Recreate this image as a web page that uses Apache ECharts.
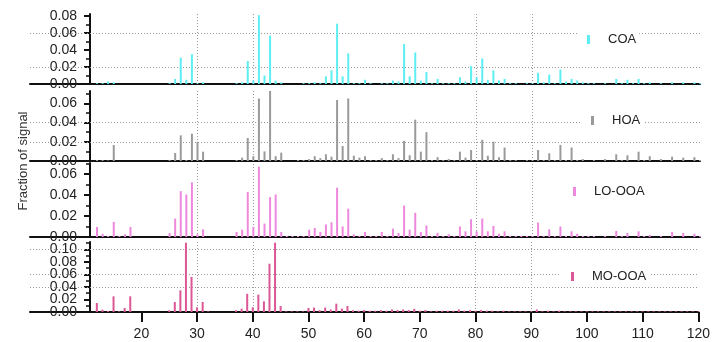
<!DOCTYPE html>
<html><head><meta charset="utf-8">
<script src="https://cdn.jsdelivr.net/npm/echarts@6/dist/echarts.min.js"></script>
<style>html,body{margin:0;padding:0;background:#fff}#c{width:713px;height:342px}</style>
</head><body><div id="c"></div>
<script>
// m/z 12..120
const mz = [];
for (let m = 12; m <= 120; m++) mz.push(m);

const names = ['COA', 'HOA', 'LO-OOA', 'MO-OOA'];
const colors = ['#5CEEF2', '#9A9A9A', '#EE88DE', '#DB5796'];

const coa = [
0.001,0.001,0.003,0.002,0,0,0,0,0,0,0,0,0,0.001,0.006,0.031,0.005,0.035,0.001,0.002,
0,0,0,0,0,0.001,0.002,0.027,0.004,0.081,0.010,0.057,0.004,0.002,0,0,0,0.001,0.001,0.002,
0.001,0.009,0.016,0.071,0.009,0.036,0.001,0.001,0.005,0.001,0,0.001,0.001,0.004,0.003,0.047,0.009,0.037,0.004,0.014,
0.001,0.006,0.001,0.001,0.001,0.008,0.003,0.021,0.008,0.030,0.005,0.016,0.004,0.006,0.001,0.001,0,0.001,0.001,0.013,
0.002,0.011,0.001,0.017,0.003,0.006,0.004,0.002,0.001,0.001,0,0.001,0,0.006,0.001,0.005,0.001,0.006,0.001,0.002,
0,0.001,0,0.002,0,0.002,0,0.002,0.001];

const hoa = [
0.001,0.001,0.0005,0.0166,0,0,0,0,0,0,0,0,0,0.001,0.0083,0.0267,0.001,0.0284,0.020,0.0097,
0,0,0,0,0,0.001,0.0035,0.024,0.005,0.065,0.010,0.073,0.005,0.0087,0,0,0.001,0.001,0.002,0.005,
0.003,0.007,0.0045,0.0635,0.0156,0.065,0.0055,0.0035,0.005,0.001,0.001,0.003,0.001,0.007,0.003,0.021,0.006,0.043,0.0097,0.030,
0.001,0.004,0.001,0.002,0.001,0.0097,0.0035,0.0114,0.001,0.022,0.0055,0.020,0.004,0.014,0.001,0.001,0,0.001,0.001,0.0114,
0.001,0.008,0.001,0.0167,0.001,0.014,0.001,0.002,0,0.001,0,0.002,0,0.007,0.001,0.006,0,0.0097,0.001,0.005,
0,0.002,0,0.0045,0,0.0035,0,0.004,0.001];

const looa = [
0.0096,0.003,0.001,0.0144,0.001,0.0026,0.0096,0,0,0,0,0,0,0.0038,0.0176,0.0437,0.0405,0.052,0.0026,0.0073,
0,0,0,0,0,0.0048,0.007,0.043,0.0096,0.067,0.0128,0.038,0.0405,0.0048,0.001,0.001,0.001,0.001,0.007,0.0086,
0.0048,0.012,0.014,0.047,0.010,0.027,0.0026,0.001,0.0048,0.001,0.001,0.0048,0.001,0.008,0.0038,0.030,0.007,0.023,0.0048,0.011,
0.001,0.004,0.001,0.0026,0.001,0.010,0.0054,0.017,0.0054,0.0176,0.0054,0.0105,0.003,0.0054,0.001,0.001,0.001,0.001,0.001,0.0137,
0.001,0.0073,0.001,0.010,0.001,0.0054,0.003,0.001,0.001,0.001,0,0.001,0,0.0057,0.001,0.0038,0,0.0054,0.001,0.002,
0,0.001,0,0.0048,0,0.0038,0,0.003,0.001];

const mooa = [
0.0144,0.0037,0.0016,0.025,0.001,0.0064,0.025,0,0,0,0,0,0,0.0027,0.016,0.0346,0.1106,0.056,0.0075,0.016,
0.001,0,0,0,0,0.0027,0.0053,0.029,0.0075,0.0277,0.017,0.077,0.1106,0.0096,0.001,0.001,0.001,0.001,0.0064,0.007,
0.003,0.007,0.004,0.0133,0.0053,0.0096,0.0027,0.002,0.003,0.002,0.002,0.003,0.002,0.004,0.003,0.004,0.003,0.005,0.002,0.003,
0.001,0.002,0.002,0.002,0.002,0.004,0.002,0.003,0.002,0.003,0.002,0.002,0.001,0.002,0.001,0.001,0.001,0.001,0.001,0.004,
0.001,0.002,0.001,0.002,0.001,0.001,0.001,0.001,0.001,0.001,0.001,0.001,0.001,0.001,0.001,0.001,0.001,0.001,0.001,0.001,
0.001,0.001,0.001,0.001,0.001,0.001,0.001,0.001,0.001];

const seriesValues = [coa, hoa, looa, mooa];

// axis ranges / ticks
const yMax = [0.0824, 0.0728, 0.0705, 0.1117];
const yTicks = [
  [0, 0.02, 0.04, 0.06, 0.08],
  [0, 0.02, 0.04, 0.06],
  [0, 0.02, 0.04, 0.06],
  [0, 0.02, 0.04, 0.06, 0.08, 0.10]
];
// labels split into two interleaved sets so dense panels keep every label
const yLabelsA = [[0, 0.04, 0.08], [0, 0.04], [0, 0.04], [0, 0.04, 0.08]];
const yLabelsB = [[0.02, 0.06], [0.02, 0.06], [0.02, 0.06], [0.02, 0.06, 0.10]];
const xTicks = [20, 30, 40, 50, 60, 70, 80, 90, 100, 110, 120];
const vGrid = [30, 40, 80, 90];
const hGrid = [[0.02, 0.06], [0.02, 0.04], [], [0.04, 0.06, 0.10]];

// layout
const gridTops = [14, 91, 163, 242];
const gridHeights = [70, 70, 74, 70];
const legendPos = [[577, 30], [581, 111], [563, 182], [561, 267]];

const FONT = 'Liberation Sans, Arial, sans-serif';
const grids = [], xAxes = [], yAxes = [], series = [], legends = [];
const labelBase = { fontSize: 14, color: '#222', fontFamily: FONT, margin: 13,
  showMinLabel: true, showMaxLabel: true, hideOverlap: false, formatter: v => v.toFixed(2) };
for (let k = 0; k < 4; k++) {
  grids.push({ left: 30, right: 13, top: gridTops[k], height: gridHeights[k] });
  const last = k === 3;
  xAxes.push({
    gridIndex: k, type: 'value', min: 0, max: 120,
    axisLine: { show: true, onZero: false, lineStyle: { color: '#111', width: 2 } },
    axisTick: { show: last, customValues: xTicks, length: 10, inside: false, lineStyle: { color: '#111', width: 2 } },
    axisLabel: { show: last, customValues: xTicks, fontSize: 14, color: '#222', fontFamily: FONT, margin: 15 },
    splitLine: { show: false }
  });
  const yIdx = yAxes.length;
  yAxes.push({
    gridIndex: k, type: 'value', min: 0, max: yMax[k], interval: 0.02, offset: -60,
    axisLine: { show: true, lineStyle: { color: '#111', width: 2 } },
    axisTick: { show: true, customValues: yTicks[k], length: 6, lineStyle: { color: '#111', width: 2 } },
    minorTick: { show: true, splitNumber: 2, length: 4, lineStyle: { color: '#111', width: 1.5 } },
    axisLabel: Object.assign({ customValues: yLabelsA[k] }, labelBase),
    splitLine: { show: false }
  });
  yAxes.push({
    gridIndex: k, type: 'value', min: 0, max: yMax[k], interval: 0.02, offset: -60, position: 'left',
    axisLine: { show: false }, axisTick: { show: false }, minorTick: { show: false },
    axisLabel: Object.assign({ customValues: yLabelsB[k] }, labelBase),
    splitLine: { show: false }
  });
  const mlData = vGrid.map(v => ({ xAxis: v })).concat(hGrid[k].map(v => ({ yAxis: v })));
  series.push({
    name: names[k], type: 'bar', xAxisIndex: k, yAxisIndex: yIdx,
    barWidth: 2, itemStyle: { color: colors[k] },
    data: mz.map((m, i) => [m, seriesValues[k][i]]),
    markLine: {
      silent: true, symbol: ['none', 'none'], z: 1, animation: false,
      label: { show: false },
      lineStyle: { type: [1, 2], color: '#999', width: 1 },
      data: mlData
    }
  });
  legends.push({
    data: [names[k]], left: legendPos[k][0], top: legendPos[k][1],
    backgroundColor: '#fff', padding: [3, 3, 3, 10],
    itemWidth: 3, itemHeight: 9, icon: 'rect',
    textStyle: { fontSize: 13, color: '#222', fontFamily: FONT, padding: [0, 0, 0, 13] }
  });
}

const chart = echarts.init(document.getElementById('c'), null, { renderer: 'canvas' });
chart.setOption({
  animation: false,
  backgroundColor: '#fff',
  grid: grids, xAxis: xAxes, yAxis: yAxes, series: series, legend: legends,
  graphic: [{
    type: 'text', x: 23, y: 161, rotation: Math.PI / 2,
    style: { text: 'Fraction of signal', fontSize: 13, fill: '#333', fontFamily: FONT,
      textAlign: 'center', textVerticalAlign: 'middle' }
  }]
});
</script></body></html>
